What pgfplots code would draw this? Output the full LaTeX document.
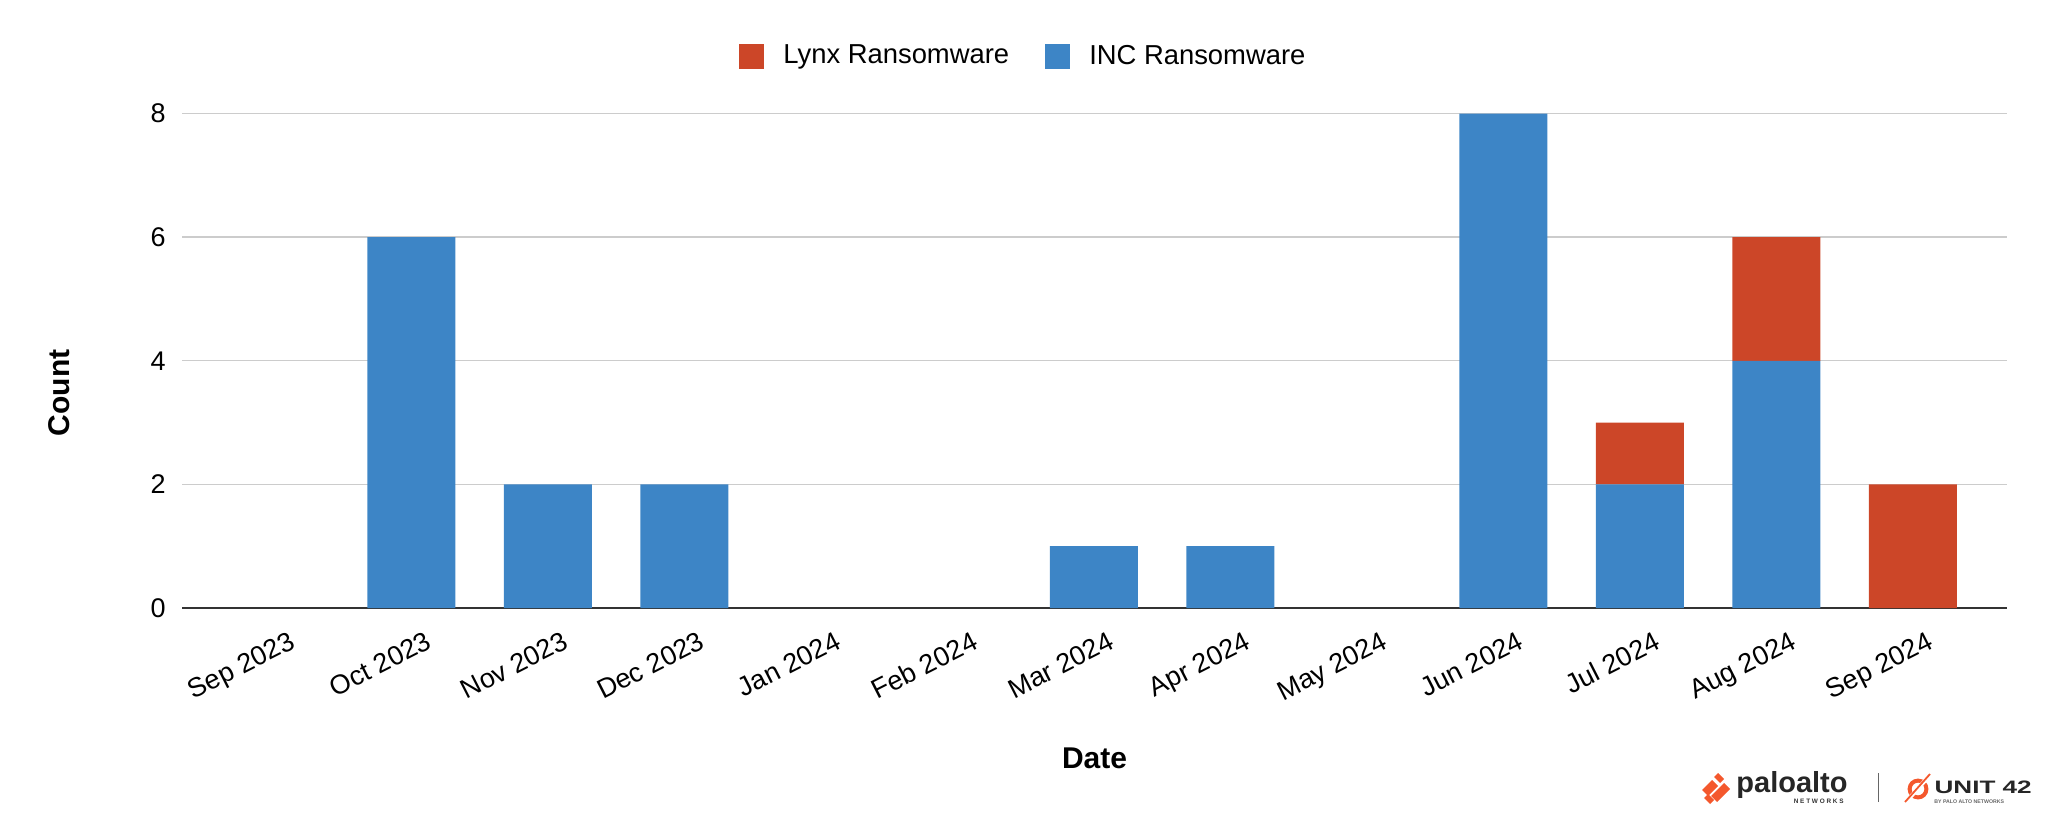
\documentclass[border=0pt]{standalone}
\usepackage{fontspec}
\setmainfont{Liberation Sans}
\usepackage{pgfplots}
\usepackage{pgfplotstable}
\pgfplotsset{compat=1.18}
\definecolor{incblue}{HTML}{3D85C6}
\definecolor{lynxred}{HTML}{CC4628}
\definecolor{gridgray}{HTML}{CCCCCC}
\definecolor{basegray}{HTML}{333333}
\definecolor{paloorange}{HTML}{F4582D}

\pgfplotstableread{
x inc lynx
0 0 0
1 6 0
2 2 0
3 2 0
4 0 0
5 0 0
6 1 0
7 1 0
8 0 0
9 8 0
10 2 1
11 4 2
12 0 2
}\datatable

\begin{document}
\begin{tikzpicture}
\path[use as bounding box] (0,0) rectangle (1024pt,408pt);
\begin{axis}[
  at={(91pt,104pt)}, anchor=south west,
  scale only axis, width=912.5pt, height=247.25pt,
  ybar stacked, bar width=44pt,
  xmin=-0.68, xmax=12.69, ymin=0, ymax=8,
  xtick={0,...,12},
  xticklabels={Sep 2023,Oct 2023,Nov 2023,Dec 2023,Jan 2024,Feb 2024,Mar 2024,Apr 2024,May 2024,Jun 2024,Jul 2024,Aug 2024,Sep 2024},
  ytick={2,4,6,8},
  extra y ticks={0},
  extra y tick style={grid style={draw=basegray, line width=1pt}},
  ymajorgrids,
  grid style={draw=gridgray, line width=0.7pt},
  axis line style={draw=none},
  major tick length=0pt,
  tick style={draw=none},
  /pgf/number format/assume math mode=true,
  tick label style={font=\fontsize{13.5}{16}\selectfont},
  yticklabel style={anchor=east, inner sep=0pt, xshift=-8pt},
  xticklabel style={inner sep=0pt, xshift=6.75pt, yshift=-11pt, rotate=27, anchor=north east},
  xlabel={Date}, ylabel={Count},
  label style={font=\bfseries\fontsize{15}{18}\selectfont},
  xlabel style={at={(axis description cs:0.5,-0.3033)}, anchor=center},
  ylabel style={at={(axis description cs:-0.0674,0.435)}, anchor=center},
  legend columns=2,
  reverse legend,
  legend image code/.code={\fill[#1] (0pt,-6.25pt) rectangle (12.5pt,6.25pt);},
  legend style={at={(axis description cs:0.4616,1.1163)}, anchor=center, draw=none, fill=none,
    font=\fontsize{13.7}{16}\selectfont,
    /tikz/every odd column/.append style={column sep=7.5pt},
    /tikz/every even column/.append style={column sep=16pt}},
]
\addplot[fill=incblue, draw=none] table[x=x, y=inc] {\datatable};
\addlegendentry{INC Ransomware}
\addplot[fill=lynxred, draw=none] table[x=x, y=lynx] {\datatable};
\addlegendentry{Lynx Ransomware}
\end{axis}
% logo
\begin{scope}
\fill[paloorange] (851pt,13pt) -- (856pt,18pt) -- (859pt,15pt) -- (854pt,10pt) -- cycle;
\fill[paloorange] (855.5pt,10pt) -- (862pt,16.5pt) -- (865pt,13.5pt) -- (858.5pt,7pt) -- cycle;
\fill[paloorange] (857pt,19.5pt) -- (859pt,21.5pt) -- (862pt,18.5pt) -- (860pt,16.5pt) -- cycle;
\fill[paloorange] (852pt,9pt) -- (854pt,11pt) -- (857pt,8pt) -- (855pt,6pt) -- cycle;
\node[anchor=base west, inner sep=0pt, font=\bfseries\fontsize{14.5}{16}\selectfont, text=black!85] at (868pt,12pt) {paloalto};
\node[anchor=base east, inner sep=0pt, font=\bfseries\fontsize{3.2}{4}\selectfont, text=black!80] at (922pt,6.5pt) {N E T W O R K S};
\draw[black!60, line width=0.5pt] (939pt,7pt) -- (939pt,21.5pt);
\draw[paloorange, line width=2pt] (959pt,13.5pt) circle (4.2pt);
\draw[white, line width=2pt] (953pt,7pt) -- (965pt,20.5pt);
\draw[paloorange, line width=0.9pt] (952.5pt,7pt) -- (965pt,21pt);
\node[anchor=base west, inner sep=0pt, xscale=1.45, font=\bfseries\fontsize{9}{11}\selectfont, text=black!85] at (967pt,11.5pt) {UNIT 42};
\node[anchor=base west, inner sep=0pt, font=\bfseries\fontsize{2.6}{3}\selectfont, text=black!60] at (967pt,6.5pt) {BY PALO ALTO NETWORKS};
\end{scope}
\end{tikzpicture}
\end{document}
